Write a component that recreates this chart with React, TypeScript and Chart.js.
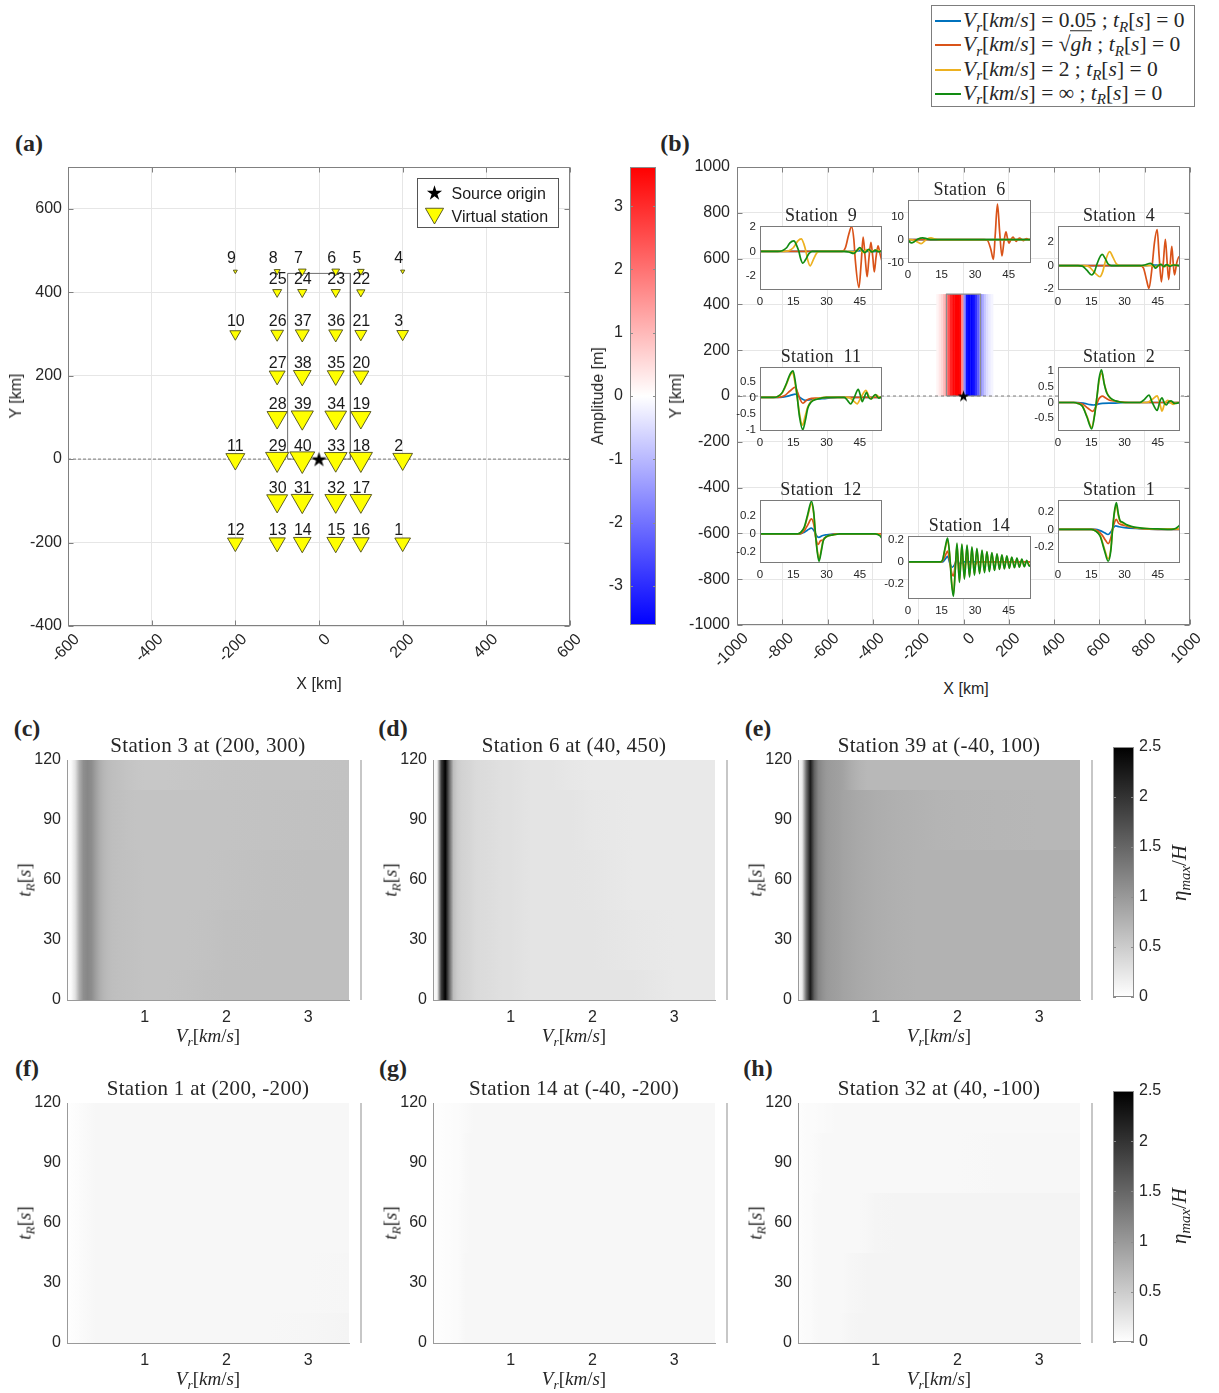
import React, { useEffect, useRef } from 'react';
import { Chart, registerables } from 'chart.js';

Chart.register(...registerables);

const SANS = '"Liberation Sans", Arial, Helvetica, sans-serif';
const SERIF = '"Liberation Serif", "Times New Roman", serif';
const INK = '#262626';
const GRID = '#e6e6e6';
const FRAME = '#808080';
const C_BLUE = '#0072BD';
const C_RED = '#D95319';
const C_YELLOW = '#EDB120';
const C_GREEN = '#128C12';

// ---------------- (a) virtual stations ----------------
const STATION_ID = [1,2,3,4,5,6,7,8,9,10,11,12,13,14,15,16,17,18,19,20,21,22,23,24,25,26,27,28,29,30,31,32,33,34,35,36,37,38,39,40];
const STATION_X = [200,200,200,200,100,40,-40,-100,-200,-200,-200,-200,-100,-40,40,100,100,100,100,100,100,100,40,-40,-100,-100,-100,-100,-100,-100,-40,40,40,40,40,40,-40,-40,-40,-40];
const STATION_Y = [-200,0,300,450,450,450,450,450,450,300,0,-200,-200,-200,-200,-200,-100,0,100,200,300,400,400,400,400,300,200,100,0,-100,-100,-100,0,100,200,300,300,200,100,0];
const STATION_PEAK = [0.63,0.79,0.47,0.17,0.27,0.31,0.31,0.24,0.16,0.44,0.76,0.63,0.65,0.71,0.71,0.67,0.87,0.93,0.81,0.64,0.48,0.33,0.37,0.37,0.36,0.51,0.64,0.81,0.93,0.84,0.89,0.87,0.91,0.87,0.68,0.56,0.56,0.71,0.89,1.0];
const SOURCE_X = [0];
const SOURCE_Y = [0];
const FAULT_X = [-75, -75, 75, 75, -75];
const FAULT_Y = [0, 445, 445, 0, 0];
const A_XTICKS = [-600, -400, -200, 0, 200, 400, 600];
const A_YTICKS = [-400, -200, 0, 200, 400, 600];

// amplitude colour bar
const AMP_LIMIT = 3.62;
const AMP_TICKS = [-3, -2, -1, 0, 1, 2, 3];

// ---------------- (b) ----------------
const B_TICKS = [-1000, -800, -600, -400, -200, 0, 200, 400, 600, 800, 1000];
const STRIP_X = [-115,-105,-95,-85,-75,-65,-55,-45,-35,-25,-15,-5,5,15,25,35,45,55,65,75,85,95,105,115,125];
const STRIP_AMP = [0.15,0.35,0.6,1.0,1.6,2.4,3.1,3.5,3.6,3.6,3.5,1.6,-1.6,-3.4,-3.6,-3.6,-3.4,-2.9,-2.3,-1.7,-1.2,-0.8,-0.5,-0.3,-0.15];
const STRIP_TOP = 445;

const T_TICKS = [0, 15, 30, 45];

const S9_BLUE = [[0,0],[40,0],[43,0.02],[46,0.06],[48,0.02],[50,-0.02],[55,0]];
const S9_RED = [[0,0],[37,0],[38.5,0.3],[40,1.4],[41.3,2.04],[42.3,1.0],[43,-0.8],[44.6,-3.0],[45.6,-1.0],[46.5,1.18],[47.4,-0.5],[48.3,-2.1],[49.1,-0.6],[50,0.75],[50.8,-0.4],[51.5,-1.7],[52.3,-0.5],[53.2,0.46],[54.1,-0.2],[55,-0.83]];
const S9_YELLOW = [[0,0],[11,0],[13,0.05],[15,0.3],[17,0.85],[18.6,1.03],[19.8,0.6],[20.7,0],[21.5,-0.7],[22.6,-1.2],[24,-0.7],[25.5,-0.15],[27,0],[40,0],[43,-0.05],[45,0.2],[46.5,-0.1],[48,0.15],[50,-0.05],[52,0.1],[55,0]];
const S9_GREEN = [[0,0],[8,0],[10,0.05],[12,0.3],[13.5,0.7],[15.3,0.86],[16.5,0.5],[17.5,0],[18.3,-0.6],[19.3,-0.98],[20.5,-0.7],[22,-0.2],[23.5,0],[38,0],[40,-0.05],[42.3,-0.17],[43.8,0.1],[45,0.32],[46.2,0.05],[47.3,-0.1],[49,0.17],[50.5,-0.05],[52,0.1],[53.5,-0.03],[55,0.05]];

const S6_BLUE = [[0,0],[55,0]];
const S6_RED = [[0,0],[34,0],[35.5,-0.3],[37,-4],[38.2,-8.5],[39,2],[40,15.2],[41,3],[42,-7],[42.9,-1],[43.8,3.3],[44.5,0.5],[45.2,-1.5],[46,0],[47,1.1],[47.7,0.1],[48.4,-0.7],[49.1,0.1],[49.9,0.7],[50.8,0.1],[51.6,-0.4],[52.4,0.2],[53.1,0.5],[54,0],[55,0.1]];
const S6_YELLOW = [[0,0],[2,-0.1],[4,-0.9],[5.9,-1.7],[7.5,-0.5],[8.7,0.4],[10.3,0.8],[12,0.3],[14,0],[55,0]];
const S6_GREEN = [[0,0],[0.8,-1.0],[1.6,-1.4],[2.8,-0.9],[4.5,0.3],[6.6,0.8],[8.5,0.35],[10,0.05],[12,0],[55,0]];

const S4_BLUE = [[0,0],[40,0],[43,0.05],[46,0.02],[55,0]];
const S4_RED = [[0,0],[37,0],[38.5,-0.2],[40,-1.3],[41,-1.97],[42.2,-0.5],[43.5,2.0],[44.7,3.1],[45.6,0.8],[46.6,-1.4],[47.5,0.3],[48.4,2.25],[49.2,0.3],[49.9,-1.2],[50.6,0.2],[51.3,1.65],[51.9,0.3],[52.5,-0.8],[53.5,0.2],[54.6,0.78],[55,0.5]];
const S4_YELLOW = [[0,0],[12,0],[14,-0.1],[16.5,-0.6],[18.9,-0.96],[20.2,-0.5],[21.4,0.4],[23.3,1.19],[24.8,0.7],[26.3,0.15],[28,0],[42,0],[44,-0.1],[46,0.1],[48,-0.08],[50,0.06],[55,0]];
const S4_GREEN = [[0,0],[9,0],[11,-0.05],[13,-0.4],[15.2,-0.81],[16.5,-0.5],[17.7,0.2],[19.9,0.96],[21.3,0.6],[22.5,0.15],[24,0],[37,0],[39,0.05],[41.7,0.2],[43,0],[44,-0.23],[45.3,0],[46.5,0.1],[47.7,-0.1],[49,0.08],[50.5,-0.06],[52,0.05],[55,0]];

const S11_BLUE = [[0,0],[9,0],[12,0.03],[14.5,0.08],[15.9,0.1],[17.5,0.03],[19,-0.05],[20.5,-0.09],[23,-0.07],[26,-0.05],[30,-0.03],[35,0],[55,0]];
const S11_RED = [[0,0],[8,0],[11,0.05],[13.5,0.2],[15.9,0.32],[17,0.15],[18,-0.05],[19.3,-0.18],[20.5,-0.12],[22,-0.05],[26,-0.02],[30,0],[55,0]];
const S11_YELLOW = [[0,0],[6,0],[8,0.03],[10,0.14],[12,0.42],[13.5,0.68],[14.7,0.78],[15.8,0.45],[16.8,0],[17.8,-0.5],[19.1,-0.87],[20.3,-0.6],[21.5,-0.3],[23,-0.12],[26,-0.04],[30,0],[40,0],[42,-0.1],[43.8,-0.2],[45.5,0],[47.8,0.22],[49,0.05],[50.2,-0.05],[51.3,0.03],[52.5,0.07],[54,0],[55,0.02]];
const S11_GREEN = [[0,0],[6,0],[8,0.03],[10,0.15],[12,0.45],[13.5,0.72],[14.9,0.83],[15.9,0.5],[16.8,0],[17.8,-0.6],[19.3,-1.01],[20.5,-0.7],[21.5,-0.35],[23,-0.15],[26,-0.05],[30,0],[38,0],[39.5,-0.1],[40.9,-0.2],[42.5,0],[44.3,0.25],[45.3,0.05],[46.1,-0.13],[47,0],[48,0.16],[49,0],[50,-0.05],[51,0.02],[52,0.09],[53.5,-0.02],[55,0.02]];

const S2_BLUE = [[0,0],[9,0],[12,-0.03],[14.5,-0.07],[16,-0.08],[18,-0.05],[20,-0.03],[25,-0.02],[30,0],[55,0]];
const S2_RED = [[0,0],[8,0],[11,-0.05],[13.5,-0.18],[15.6,-0.28],[17,-0.15],[18.3,0.1],[20,0.2],[21.5,0.14],[23,0.08],[25,0.05],[28,0.02],[32,0],[55,0]];
const S2_YELLOW = [[0,0],[7,0],[9,-0.03],[11,-0.11],[13,-0.42],[15.2,-0.78],[16.5,-0.38],[17.6,0.2],[18.6,0.7],[19.8,0.93],[21,0.55],[22.2,0.28],[24,0.11],[26,0.04],[30,0],[40,0],[42.5,0.1],[44.7,0.21],[45.8,0],[46.9,-0.27],[48,-0.05],[49.5,0.07],[51,-0.02],[52,-0.06],[53.5,0],[55,0]];
const S2_GREEN = [[0,0],[7,0],[9,-0.03],[11,-0.12],[13,-0.45],[15.2,-0.83],[16.5,-0.4],[17.6,0.2],[18.5,0.75],[19.6,1.03],[20.8,0.6],[22,0.3],[24,0.12],[26,0.05],[30,0],[37,0],[39,0.1],[41,0.23],[42.5,0],[44.7,-0.25],[46,0.05],[46.9,0.15],[47.8,0],[48.8,-0.08],[50,0.03],[51,0.05],[52.5,-0.03],[55,0]];

const S12_BLUE = [[0,0],[18,0],[20,0.02],[21.5,0.045],[23.2,0.065],[24.3,0.04],[25.5,-0.02],[26.5,-0.04],[28,-0.02],[30,-0.01],[35,0],[55,0]];
const S12_RED = [[0,0],[18,0],[20,0.04],[21.5,0.1],[23.2,0.17],[24.3,0.1],[25.2,-0.05],[26.2,-0.12],[27.2,-0.08],[28.2,-0.07],[29.5,-0.04],[32,-0.01],[36,0],[55,0]];
const S12_YELLOW = [[0,0],[17,0],[18.5,0.02],[20,0.07],[21.5,0.2],[23.2,0.34],[24.2,0.23],[25,0],[25.8,-0.18],[26.6,-0.29],[27.6,-0.18],[28.5,-0.07],[30,-0.03],[33,-0.01],[36,0],[52,0],[54,-0.01],[55,-0.04]];
const S12_GREEN = [[0,0],[17,0],[18.5,0.02],[20,0.08],[21.5,0.22],[23.2,0.37],[24.2,0.25],[25,0],[25.8,-0.2],[26.6,-0.31],[27.6,-0.2],[28.5,-0.08],[30,-0.03],[33,-0.01],[36,0],[52,0],[54,-0.02],[55,-0.05]];

const S14_BLUE = [[0,0],[15.5,0],[16.8,0.03],[17.7,0.05],[18.8,-0.02],[19.8,-0.05],[21,-0.02],[22,0.02],[23,-0.02],[25,0],[55,0]];
const S14_RED = [[0,0],[15,0],[16.5,0.05],[17.7,0.1],[18.7,0],[19.5,-0.1],[20.3,-0.13],[21.3,0],[22,0.06],[23,-0.07],[24.1,0.05],[25.2,-0.06],[26.4,0.04],[27.5,-0.05],[28.6,0.03],[29.7,-0.04],[31,0],[55,0]];
const S14_YELLOW = [[0,0],[14.5,0],[15.5,0.02],[16.5,0.11],[17.7,0.2],[18.7,0.05],[19.5,-0.18],[20.3,-0.3],[21.2,-0.05],[21.9,0.16],[23,-0.18],[24.1,0.155],[25.2,-0.15],[26.4,0.145],[27.5,-0.13],[28.6,0.13],[29.7,-0.115],[30.8,0.115],[32,-0.1],[33.1,0.1],[34.2,-0.09],[35.3,0.09],[36.4,-0.08],[37.5,0.08],[38.7,-0.075],[39.8,0.07],[40.9,-0.065],[42,0.06],[43.1,-0.06],[44.2,0.05],[45.3,-0.055],[46.4,0.04],[47.6,-0.05],[48.7,0.03],[49.8,-0.045],[50.9,0.02],[52,-0.04],[53.1,0.01],[54.2,-0.03],[55,-0.02]];
const S14_GREEN = [[0,0],[14.5,0],[15.5,0.02],[16.5,0.12],[17.7,0.22],[18.7,0.05],[19.5,-0.2],[20.3,-0.32],[21.2,-0.05],[21.9,0.175],[23,-0.19],[24.1,0.165],[25.2,-0.16],[26.4,0.155],[27.5,-0.14],[28.6,0.14],[29.7,-0.125],[30.8,0.125],[32,-0.11],[33.1,0.11],[34.2,-0.1],[35.3,0.095],[36.4,-0.09],[37.5,0.085],[38.7,-0.08],[39.8,0.075],[40.9,-0.07],[42,0.065],[43.1,-0.065],[44.2,0.055],[45.3,-0.06],[46.4,0.045],[47.6,-0.055],[48.7,0.035],[49.8,-0.05],[50.9,0.025],[52,-0.045],[53.1,0.015],[54.2,-0.04],[55,-0.03]];

const S1_BLUE = [[0,0],[17,0],[19,-0.015],[21,-0.04],[22.6,-0.06],[23.8,-0.03],[25,0.02],[26,0.04],[27.5,0.03],[30,0.02],[35,0.01],[45,0],[55,0]];
const S1_RED = [[0,0],[16,0],[18,-0.02],[20,-0.07],[21.5,-0.13],[22.6,-0.165],[23.8,-0.1],[24.8,0.02],[25.6,0.09],[26.3,0.115],[27.3,0.07],[28.5,0.055],[30,0.045],[33,0.025],[37,0.01],[45,0],[55,0]];
const S1_YELLOW = [[0,0],[15,0],[17,-0.02],[19,-0.07],[21,-0.23],[22.6,-0.34],[23.8,-0.23],[24.6,0],[25.4,0.18],[26.3,0.28],[27.2,0.16],[28,0.09],[29,0.075],[30.5,0.05],[33,0.03],[36,0.015],[40,0.008],[45,0.004],[55,0.005]];
const S1_GREEN = [[0,0],[15,0],[17,-0.02],[19,-0.08],[21,-0.25],[22.6,-0.37],[23.8,-0.25],[24.6,0],[25.4,0.2],[26.3,0.31],[27.2,0.18],[28,0.1],[29,0.085],[30.5,0.06],[33,0.035],[36,0.02],[40,0.01],[45,0.005],[51,0],[53,0.01],[55,0.05]];

// ---------------- (c)-(h) heat maps ----------------
const HM_VR = [0.05,0.1,0.15,0.2,0.25,0.3,0.35,0.4,0.45,0.5,0.55,0.6,0.7,0.8,0.9,1.0,1.25,1.5,1.75,2.0,2.5,3.0,3.5];
const HM_TR = [0, 30, 60, 90, 120];
const HM_VR_TICKS = [1, 2, 3];
const HM_TR_TICKS = [0, 30, 60, 90, 120];
const ETA_TICKS = [0, 0.5, 1, 1.5, 2, 2.5];
const ETA_MAX = 2.5;

const HM_ST3 = [
  [0.0,0.04,0.28,0.8,1.1,1.18,1.12,0.95,0.8,0.72,0.67,0.64,0.62,0.61,0.6,0.59,0.59,0.6,0.62,0.625,0.625,0.625,0.625],
  [0.0,0.04,0.28,0.8,1.1,1.18,1.12,0.95,0.8,0.72,0.67,0.64,0.62,0.61,0.6,0.59,0.59,0.59,0.6,0.615,0.625,0.625,0.625],
  [0.0,0.04,0.28,0.8,1.1,1.18,1.12,0.95,0.8,0.72,0.67,0.64,0.62,0.61,0.6,0.59,0.59,0.59,0.59,0.6,0.615,0.625,0.625],
  [0.0,0.04,0.28,0.8,1.1,1.18,1.12,0.95,0.8,0.72,0.67,0.64,0.62,0.6,0.59,0.59,0.59,0.59,0.59,0.59,0.6,0.61,0.62],
  [0.0,0.04,0.28,0.8,1.1,1.18,1.12,0.95,0.8,0.72,0.67,0.64,0.61,0.58,0.56,0.55,0.55,0.56,0.57,0.58,0.59,0.59,0.6],
];
const HM_ST6 = [
  [0.03,0.1,1.9,2.5,1.5,0.65,0.5,0.44,0.42,0.4,0.37,0.35,0.34,0.32,0.3,0.3,0.265,0.265,0.265,0.265,0.265,0.22,0.216],
  [0.03,0.1,1.9,2.5,1.5,0.65,0.5,0.44,0.42,0.4,0.37,0.35,0.34,0.32,0.3,0.3,0.265,0.265,0.265,0.265,0.24,0.216,0.216],
  [0.03,0.1,1.9,2.5,1.5,0.65,0.5,0.44,0.42,0.4,0.37,0.35,0.34,0.32,0.3,0.3,0.265,0.265,0.265,0.255,0.22,0.216,0.216],
  [0.03,0.1,1.9,2.5,1.5,0.65,0.5,0.44,0.42,0.4,0.37,0.35,0.34,0.32,0.3,0.3,0.265,0.265,0.26,0.24,0.216,0.216,0.216],
  [0.03,0.1,1.9,2.5,1.5,0.65,0.5,0.44,0.42,0.4,0.37,0.35,0.34,0.32,0.3,0.3,0.265,0.265,0.24,0.216,0.216,0.216,0.216],
];
const HM_ST39 = [
  [0.02,0.2,1.4,2.25,1.55,1.2,1.08,1.0,0.97,0.95,0.93,0.9,0.87,0.84,0.82,0.8,0.77,0.755,0.755,0.755,0.755,0.755,0.755],
  [0.02,0.2,1.4,2.25,1.55,1.2,1.08,1.0,0.97,0.95,0.93,0.9,0.87,0.84,0.82,0.8,0.77,0.755,0.755,0.755,0.755,0.755,0.755],
  [0.02,0.2,1.4,2.25,1.55,1.2,1.08,1.0,0.97,0.95,0.93,0.9,0.87,0.84,0.82,0.8,0.77,0.755,0.755,0.755,0.755,0.755,0.755],
  [0.02,0.2,1.4,2.25,1.55,1.2,1.08,1.0,0.97,0.95,0.93,0.9,0.87,0.84,0.82,0.8,0.77,0.755,0.74,0.73,0.72,0.71,0.71],
  [0.02,0.2,1.4,2.25,1.55,1.2,1.08,1.0,0.97,0.95,0.93,0.9,0.8,0.74,0.7,0.7,0.7,0.7,0.7,0.7,0.7,0.7,0.7],
];
const HM_ST1 = [
  [0.01,0.02,0.03,0.04,0.05,0.06,0.07,0.075,0.08,0.08,0.08,0.08,0.08,0.08,0.08,0.08,0.08,0.08,0.08,0.08,0.08,0.085,0.11],
  [0.01,0.02,0.03,0.04,0.05,0.06,0.07,0.075,0.08,0.08,0.08,0.08,0.08,0.08,0.08,0.08,0.08,0.08,0.08,0.08,0.08,0.08,0.09],
  [0.01,0.02,0.03,0.04,0.05,0.06,0.07,0.075,0.08,0.08,0.08,0.08,0.08,0.08,0.08,0.08,0.08,0.08,0.08,0.08,0.08,0.08,0.08],
  [0.01,0.02,0.03,0.04,0.05,0.06,0.07,0.075,0.08,0.08,0.08,0.08,0.08,0.08,0.08,0.08,0.08,0.08,0.08,0.08,0.08,0.08,0.08],
  [0.01,0.02,0.03,0.04,0.05,0.06,0.07,0.075,0.08,0.08,0.08,0.08,0.08,0.08,0.08,0.08,0.08,0.08,0.08,0.08,0.08,0.08,0.08],
];
const HM_ST14 = [
  [0.01,0.015,0.02,0.025,0.03,0.035,0.04,0.06,0.075,0.08,0.08,0.08,0.08,0.08,0.08,0.08,0.08,0.08,0.08,0.08,0.08,0.08,0.08],
  [0.01,0.015,0.02,0.025,0.03,0.035,0.04,0.06,0.075,0.08,0.08,0.08,0.08,0.08,0.08,0.08,0.08,0.08,0.08,0.08,0.08,0.08,0.08],
  [0.01,0.015,0.02,0.025,0.03,0.035,0.04,0.055,0.07,0.08,0.08,0.08,0.08,0.08,0.08,0.08,0.08,0.08,0.08,0.08,0.08,0.08,0.08],
  [0.01,0.015,0.02,0.025,0.03,0.035,0.04,0.05,0.065,0.075,0.08,0.08,0.08,0.08,0.08,0.08,0.08,0.08,0.08,0.08,0.08,0.08,0.08],
  [0.01,0.015,0.02,0.025,0.03,0.035,0.04,0.045,0.06,0.07,0.075,0.08,0.08,0.08,0.08,0.08,0.08,0.08,0.08,0.08,0.08,0.08,0.08],
];
const HM_ST32 = [
  [0.02,0.03,0.035,0.04,0.06,0.07,0.07,0.07,0.07,0.07,0.07,0.075,0.1,0.11,0.11,0.11,0.11,0.11,0.11,0.11,0.11,0.11,0.11],
  [0.02,0.03,0.035,0.04,0.06,0.07,0.07,0.07,0.07,0.07,0.07,0.07,0.09,0.1,0.11,0.11,0.11,0.11,0.11,0.11,0.11,0.11,0.11],
  [0.02,0.03,0.035,0.04,0.055,0.07,0.07,0.07,0.07,0.07,0.07,0.07,0.07,0.07,0.08,0.1,0.11,0.11,0.11,0.11,0.11,0.11,0.11],
  [0.02,0.03,0.035,0.04,0.045,0.06,0.07,0.07,0.07,0.07,0.07,0.07,0.07,0.07,0.07,0.07,0.07,0.07,0.07,0.07,0.075,0.075,0.075],
  [0.02,0.03,0.035,0.04,0.04,0.045,0.05,0.055,0.06,0.07,0.07,0.07,0.07,0.07,0.07,0.07,0.07,0.07,0.07,0.07,0.07,0.07,0.07],
];

// ---------------- helpers ----------------
type Area = { l: number; t: number; r: number; b: number };
type Mg = { l: number; t: number; r: number; b: number };

function grayCss(v: number) {
  const g = Math.round(255 * (1 - Math.max(0, Math.min(ETA_MAX, v)) / ETA_MAX));
  return `rgb(${g},${g},${g})`;
}
function ampCss(v: number) {
  const t = Math.max(-1, Math.min(1, v / AMP_LIMIT));
  if (t >= 0) {
    const c = Math.round(255 * (1 - t));
    return `rgb(255,${c},${c})`;
  }
  const c = Math.round(255 * (1 + t));
  return `rgb(${c},${c},255)`;
}
function starCanvas(size: number) {
  const c = document.createElement('canvas');
  c.width = size;
  c.height = size;
  const ctx = c.getContext('2d')!;
  const R = size / 2 - 0.5;
  const r = R * 0.382;
  const cx = size / 2;
  const cy = size / 2 + R * 0.095;
  ctx.beginPath();
  for (let i = 0; i < 10; i++) {
    const ang = -Math.PI / 2 + (i * Math.PI) / 5;
    const rr = i % 2 === 0 ? R : r;
    ctx.lineTo(cx + rr * Math.cos(ang), cy + rr * Math.sin(ang));
  }
  ctx.closePath();
  ctx.fillStyle = '#000';
  ctx.fill();
  return c;
}

function axis(o: any, horizontal: boolean) {
  return {
    type: 'linear',
    display: o.display !== false,
    position: o.position || (horizontal ? 'bottom' : 'left'),
    min: o.min,
    max: o.max,
    afterBuildTicks: (s: any) => {
      s.ticks = o.ticks.map((v: number) => ({ value: v }));
    },
    afterFit: (s: any) => {
      if (horizontal) s.height = o.size;
      else s.width = o.size;
    },
    ticks: {
      autoSkip: false,
      padding: o.pad,
      color: INK,
      font: { family: SANS, size: o.font },
      maxRotation: o.rot || 0,
      minRotation: o.rot || 0,
      labelOffset: o.offset || 0,
      callback: (v: any) => String(v),
    },
    grid: { display: !!o.grid, color: GRID, drawTicks: false, lineWidth: 1 },
    border: { display: !!o.border, color: o.border || 'transparent', width: 1 },
  };
}

function baseOptions(scales: any, padding: any) {
  return {
    responsive: false,
    maintainAspectRatio: false,
    animation: false,
    devicePixelRatio: 1,
    events: [],
    layout: { padding },
    plugins: { legend: { display: false }, tooltip: { enabled: false }, title: { display: false } },
    scales,
  };
}

function framePlugin(color: string, tick: number) {
  return {
    id: 'frame',
    afterDatasetsDraw(chart: any) {
      const { ctx, chartArea: a } = chart;
      const L = Math.round(a.left) + 0.5;
      const R = Math.round(a.right) - 0.5;
      const T = Math.round(a.top) + 0.5;
      const B = Math.round(a.bottom) - 0.5;
      ctx.save();
      ctx.strokeStyle = color;
      ctx.lineWidth = 1;
      ctx.strokeRect(L, T, R - L, B - T);
      if (tick > 0) {
        ctx.beginPath();
        const xs = chart.scales.x;
        const ys = chart.scales.y;
        xs.ticks.forEach((t: any) => {
          const p = Math.round(xs.getPixelForValue(t.value)) + 0.5;
          ctx.moveTo(p, B); ctx.lineTo(p, B - tick);
          ctx.moveTo(p, T); ctx.lineTo(p, T + tick);
        });
        ys.ticks.forEach((t: any) => {
          const p = Math.round(ys.getPixelForValue(t.value)) + 0.5;
          ctx.moveTo(L, p); ctx.lineTo(L + tick, p);
          ctx.moveTo(R, p); ctx.lineTo(R - tick, p);
        });
        ctx.stroke();
      }
      ctx.restore();
    },
  };
}

function ChartBox({ area, m, make }: { area: Area; m: Mg; make: (m: Mg) => any }) {
  const ref = useRef<HTMLCanvasElement | null>(null);
  const x = area.l - m.l;
  const y = area.t - m.t;
  const w = area.r - area.l + m.l + m.r;
  const h = area.b - area.t + m.t + m.b;
  useEffect(() => {
    const chart = new Chart(ref.current as HTMLCanvasElement, make(m));
    return () => chart.destroy();
  }, []);
  return <canvas ref={ref} width={w} height={h} style={{ position: 'absolute', left: x, top: y, width: w, height: h }} />;
}

// ---------------- chart factories ----------------
function makePanelA(m: Mg) {
  const star = starCanvas(17);
  const labels = {
    id: 'stationLabels',
    afterDatasetsDraw(chart: any) {
      const { ctx } = chart;
      const xs = chart.scales.x;
      const ys = chart.scales.y;
      ctx.save();
      ctx.font = `16px ${SANS}`;
      ctx.fillStyle = '#1a1a1a';
      ctx.textAlign = 'left';
      ctx.textBaseline = 'alphabetic';
      STATION_ID.forEach((id, i) => {
        ctx.fillText(String(id), xs.getPixelForValue(STATION_X[i] - 20), ys.getPixelForValue(STATION_Y[i] + 19));
      });
      ctx.restore();
    },
  };
  const legend = {
    id: 'aLegend',
    afterDraw(chart: any) {
      const { ctx, chartArea: a } = chart;
      const bx = Math.round(a.right - 153) + 0.5;
      const by = Math.round(a.top + 11) + 0.5;
      ctx.save();
      ctx.fillStyle = '#fff';
      ctx.fillRect(bx, by, 141, 49);
      ctx.strokeStyle = '#555';
      ctx.lineWidth = 1;
      ctx.strokeRect(bx, by, 141, 49);
      ctx.drawImage(star, bx + 17 - star.width / 2, by + 14 - star.height / 2);
      const r = 10.5;
      const cx = bx + 17;
      const cy = by + 35;
      ctx.beginPath();
      ctx.moveTo(cx, cy + r);
      ctx.lineTo(cx - r * 0.866, cy - r / 2);
      ctx.lineTo(cx + r * 0.866, cy - r / 2);
      ctx.closePath();
      ctx.fillStyle = '#ffff00';
      ctx.fill();
      ctx.strokeStyle = '#4d4d1a';
      ctx.lineWidth = 0.9;
      ctx.stroke();
      ctx.font = `16px ${SANS}`;
      ctx.fillStyle = '#1a1a1a';
      ctx.textBaseline = 'alphabetic';
      ctx.fillText('Source origin', bx + 34, by + 20.5);
      ctx.fillText('Virtual station', bx + 34, by + 43);
      ctx.restore();
    },
  };
  return {
    type: 'scatter',
    data: {
      datasets: [
        { data: [{ x: -600, y: 0 }, { x: 600, y: 0 }], showLine: true, borderColor: '#5a5a5a', borderWidth: 0.8, borderDash: [3, 2], pointRadius: 0, order: 5 },
        { data: FAULT_X.map((x, i) => ({ x, y: FAULT_Y[i] })), showLine: true, borderColor: '#6e6e6e', borderWidth: 1, pointRadius: 0, order: 4 },
        {
          data: STATION_X.map((x, i) => ({ x, y: STATION_Y[i] })),
          pointStyle: 'triangle', pointRotation: 180,
          pointRadius: STATION_PEAK.map((p) => p * 14.4),
          pointBackgroundColor: '#ffff00', pointBorderColor: '#4d4d1a', pointBorderWidth: 0.9, order: 2,
        },
        { data: SOURCE_X.map((x, i) => ({ x, y: SOURCE_Y[i] })), pointStyle: star, pointRadius: 8, order: 1 },
      ],
    },
    options: baseOptions(
      {
        x: axis({ min: -600, max: 600, ticks: A_XTICKS, font: 16, pad: 4, size: m.b, grid: true, rot: 45, offset: 9 }, true),
        y: axis({ min: -400, max: 700, ticks: A_YTICKS, font: 16, pad: 6, size: m.l, grid: true }, false),
      },
      { left: 0, top: m.t, right: m.r, bottom: 0 }
    ),
    plugins: [framePlugin(FRAME, 5), labels, legend],
  };
}

function makeAmpBar(m: Mg) {
  const grad = {
    id: 'ampGrad',
    beforeDatasetsDraw(chart: any) {
      const { ctx, chartArea: a } = chart;
      const ys = chart.scales.y;
      const g = ctx.createLinearGradient(0, ys.getPixelForValue(AMP_LIMIT), 0, ys.getPixelForValue(-AMP_LIMIT));
      g.addColorStop(0, ampCss(AMP_LIMIT));
      g.addColorStop(0.5, ampCss(0));
      g.addColorStop(1, ampCss(-AMP_LIMIT));
      ctx.fillStyle = g;
      ctx.fillRect(a.left, a.top, a.right - a.left, a.bottom - a.top);
      ctx.save();
      ctx.strokeStyle = '#8c8c8c';
      ctx.lineWidth = 1;
      ctx.strokeRect(Math.round(a.left) + 0.5, Math.round(a.top) + 0.5, Math.round(a.right - a.left) - 1, Math.round(a.bottom - a.top) - 1);
      ctx.beginPath();
      ys.ticks.forEach((t: any) => {
        const p = Math.round(ys.getPixelForValue(t.value)) + 0.5;
        ctx.moveTo(a.left, p); ctx.lineTo(a.left + 3, p);
        ctx.moveTo(a.right, p); ctx.lineTo(a.right - 3, p);
      });
      ctx.stroke();
      ctx.restore();
    },
  };
  return {
    type: 'scatter',
    data: { datasets: [] },
    options: baseOptions(
      {
        x: { type: 'linear', display: false, min: 0, max: 1 },
        y: axis({ min: -AMP_LIMIT, max: AMP_LIMIT, ticks: AMP_TICKS, font: 16, pad: 7, size: m.l }, false),
      },
      { left: 0, top: m.t, right: m.r, bottom: m.b }
    ),
    plugins: [grad],
  };
}

function makePanelB(m: Mg) {
  const star = starCanvas(13);
  const strip = {
    id: 'strip',
    beforeDatasetsDraw(chart: any) {
      const { ctx } = chart;
      const xs = chart.scales.x;
      const ys = chart.scales.y;
      const y0 = ys.getPixelForValue(0);
      const y1 = ys.getPixelForValue(STRIP_TOP);
      const half = (STRIP_X[1] - STRIP_X[0]) / 2;
      STRIP_X.forEach((xc, i) => {
        const x0 = xs.getPixelForValue(xc - half);
        const x1 = xs.getPixelForValue(xc + half);
        ctx.fillStyle = ampCss(STRIP_AMP[i]);
        ctx.fillRect(x0, y1, x1 - x0 + 0.4, y0 - y1);
      });
    },
  };
  return {
    type: 'scatter',
    data: {
      datasets: [
        { data: [{ x: -1000, y: 0 }, { x: 1000, y: 0 }], showLine: true, borderColor: '#606060', borderWidth: 0.8, borderDash: [3, 3], pointRadius: 0, order: 3 },
        { data: FAULT_X.map((x, i) => ({ x, y: FAULT_Y[i] })), showLine: true, borderColor: '#8c8c8c', borderWidth: 1.2, pointRadius: 0, order: 2 },
        { data: SOURCE_X.map((x, i) => ({ x, y: SOURCE_Y[i] })), pointStyle: star, pointRadius: 6, order: 1 },
      ],
    },
    options: baseOptions(
      {
        x: axis({ min: -1000, max: 1000, ticks: B_TICKS, font: 16, pad: 4, size: m.b, grid: true, rot: 45, offset: 9 }, true),
        y: axis({ min: -1000, max: 1000, ticks: B_TICKS, font: 16, pad: 7, size: m.l, grid: true }, false),
      },
      { left: 0, top: m.t, right: m.r, bottom: 0 }
    ),
    plugins: [strip, framePlugin(FRAME, 5)],
  };
}

function makeInset(series: number[][][], yMin: number, yMax: number, yTicks: number[]) {
  const colors = [C_BLUE, C_RED, C_YELLOW, C_GREEN];
  return (m: Mg) => ({
    type: 'scatter',
    data: {
      datasets: series.map((s, i) => ({
        data: s.map((p) => ({ x: p[0], y: p[1] })),
        showLine: true,
        borderColor: colors[i],
        borderWidth: 1.7,
        pointRadius: 0,
        cubicInterpolationMode: 'monotone',
        order: 3 - i,
      })),
    },
    options: baseOptions(
      {
        x: axis({ min: 0, max: 55, ticks: T_TICKS, font: 11.5, pad: 5, size: m.b }, true),
        y: axis({ min: yMin, max: yMax, ticks: yTicks, font: 11.5, pad: 4, size: m.l }, false),
      },
      { left: 0, top: m.t, right: m.r, bottom: 0 }
    ),
    plugins: [
      {
        id: 'whiteBg',
        beforeDraw(chart: any) {
          const { ctx, chartArea: a } = chart;
          ctx.save();
          ctx.fillStyle = '#fff';
          ctx.fillRect(a.left, a.top, a.right - a.left, a.bottom - a.top);
          ctx.restore();
        },
      },
      framePlugin('#7a7a7a', 0),
    ],
  });
}

function makeHeat(rows: number[][]) {
  return (m: Mg) => ({
    type: 'scatter',
    data: { datasets: [] },
    options: baseOptions(
      {
        x: axis({ min: HM_VR[0], max: HM_VR[HM_VR.length - 1], ticks: HM_VR_TICKS, font: 16, pad: 8, size: m.b, border: '#9a9a9a' }, true),
        y: axis({ min: HM_TR[0], max: HM_TR[HM_TR.length - 1], ticks: HM_TR_TICKS, font: 16, pad: 6, size: m.l, border: '#9a9a9a' }, false),
      },
      { left: 0, top: m.t, right: m.r, bottom: 0 }
    ),
    plugins: [
      {
        id: 'heat',
        beforeDraw(chart: any) {
          const { ctx, chartArea: a } = chart;
          const xs = chart.scales.x;
          const ys = chart.scales.y;
          const x0 = xs.getPixelForValue(xs.min);
          const x1 = xs.getPixelForValue(xs.max);
          const edges = [ys.min];
          for (let i = 0; i < HM_TR.length - 1; i++) edges.push((HM_TR[i] + HM_TR[i + 1]) / 2);
          edges.push(ys.max);
          ctx.save();
          rows.forEach((row, r) => {
            const g = ctx.createLinearGradient(x0, 0, x1, 0);
            row.forEach((v, c) => {
              const p = (xs.getPixelForValue(HM_VR[c]) - x0) / (x1 - x0);
              g.addColorStop(Math.max(0, Math.min(1, p)), grayCss(v));
            });
            ctx.fillStyle = g;
            const yt = Math.round(ys.getPixelForValue(edges[r + 1]));
            const yb = Math.round(ys.getPixelForValue(edges[r]));
            ctx.fillRect(a.left, yt, a.right - a.left, yb - yt);
          });
          ctx.restore();
        },
        afterDraw(chart: any) {
          const { ctx, chartArea: a } = chart;
          ctx.save();
          ctx.strokeStyle = '#b4b4b4';
          ctx.lineWidth = 1.5;
          ctx.beginPath();
          ctx.moveTo(Math.round(a.right) + 12, a.top);
          ctx.lineTo(Math.round(a.right) + 12, a.bottom);
          ctx.stroke();
          ctx.restore();
        },
      },
    ],
  });
}

function makeEtaBar(m: Mg) {
  return {
    type: 'scatter',
    data: { datasets: [] },
    options: baseOptions(
      {
        x: { type: 'linear', display: false, min: 0, max: 1 },
        y: axis({ min: 0, max: ETA_MAX, ticks: ETA_TICKS, font: 16, pad: 5, size: m.r, position: 'right' }, false),
      },
      { left: m.l, top: m.t, right: 0, bottom: m.b }
    ),
    plugins: [
      {
        id: 'etaGrad',
        beforeDatasetsDraw(chart: any) {
          const { ctx, chartArea: a } = chart;
          const ys = chart.scales.y;
          const g = ctx.createLinearGradient(0, ys.getPixelForValue(ETA_MAX), 0, ys.getPixelForValue(0));
          g.addColorStop(0, grayCss(ETA_MAX));
          g.addColorStop(1, grayCss(0));
          ctx.fillStyle = g;
          ctx.fillRect(a.left, a.top, a.right - a.left, a.bottom - a.top);
          ctx.save();
          ctx.strokeStyle = '#8c8c8c';
          ctx.lineWidth = 1;
          ctx.strokeRect(Math.round(a.left) + 0.5, Math.round(a.top) + 0.5, Math.round(a.right - a.left) - 1, Math.round(a.bottom - a.top) - 1);
          ctx.beginPath();
          ys.ticks.forEach((t: any) => {
            const p = Math.round(ys.getPixelForValue(t.value)) + 0.5;
            ctx.moveTo(a.right, p); ctx.lineTo(a.right - 3, p);
            ctx.moveTo(a.left, p); ctx.lineTo(a.left + 3, p);
          });
          ctx.stroke();
          ctx.restore();
        },
      },
    ],
  };
}

// ---------------- layout ----------------
const INSETS = [
  { id: 9, area: { l: 760, t: 226, r: 882, b: 290 }, make: makeInset([S9_BLUE, S9_RED, S9_YELLOW, S9_GREEN], -3.2, 2.1, [-2, 0, 2]) },
  { id: 6, area: { l: 908, t: 200, r: 1031, b: 263 }, make: makeInset([S6_BLUE, S6_RED, S6_YELLOW, S6_GREEN], -10, 17, [-10, 0, 10]) },
  { id: 4, area: { l: 1058, t: 226, r: 1180, b: 290 }, make: makeInset([S4_BLUE, S4_RED, S4_YELLOW, S4_GREEN], -2.1, 3.4, [-2, 0, 2]) },
  { id: 11, area: { l: 760, t: 367, r: 882, b: 431 }, make: makeInset([S11_BLUE, S11_RED, S11_YELLOW, S11_GREEN], -1.05, 0.95, [-1, -0.5, 0, 0.5]) },
  { id: 2, area: { l: 1058, t: 367, r: 1180, b: 431 }, make: makeInset([S2_BLUE, S2_RED, S2_YELLOW, S2_GREEN], -0.9, 1.12, [-0.5, 0, 0.5, 1]) },
  { id: 12, area: { l: 760, t: 500, r: 882, b: 563 }, make: makeInset([S12_BLUE, S12_RED, S12_YELLOW, S12_GREEN], -0.33, 0.385, [-0.2, 0, 0.2]) },
  { id: 14, area: { l: 908, t: 536, r: 1031, b: 599 }, make: makeInset([S14_BLUE, S14_RED, S14_YELLOW, S14_GREEN], -0.345, 0.24, [-0.2, 0, 0.2]) },
  { id: 1, area: { l: 1058, t: 500, r: 1180, b: 563 }, make: makeInset([S1_BLUE, S1_RED, S1_YELLOW, S1_GREEN], -0.39, 0.34, [-0.2, 0, 0.2]) },
];

const HEATS = [
  { key: 'c', title: 'Station 3 at (200, 300)', area: { l: 67, t: 760, r: 349, b: 1000 }, rows: HM_ST3 },
  { key: 'd', title: 'Station 6 at (40, 450)', area: { l: 433, t: 760, r: 715, b: 1000 }, rows: HM_ST6 },
  { key: 'e', title: 'Station 39 at (-40, 100)', area: { l: 798, t: 760, r: 1080, b: 1000 }, rows: HM_ST39 },
  { key: 'f', title: 'Station 1 at (200, -200)', area: { l: 67, t: 1103, r: 349, b: 1343 }, rows: HM_ST1 },
  { key: 'g', title: 'Station 14 at (-40, -200)', area: { l: 433, t: 1103, r: 715, b: 1343 }, rows: HM_ST14 },
  { key: 'h', title: 'Station 32 at (40, -100)', area: { l: 798, t: 1103, r: 1080, b: 1343 }, rows: HM_ST32 },
];

// ---------------- text helpers ----------------
function Txt({ x, y, rot = 0, size = 16, family = SANS, weight = 400, children, ls = 0 }: any) {
  return (
    <div
      style={{
        position: 'absolute', left: x, top: y,
        transform: `translate(-50%, -50%) rotate(${rot}deg)`,
        whiteSpace: 'pre', fontFamily: family, fontSize: size, fontWeight: weight,
        color: INK, lineHeight: 1, letterSpacing: ls,
      }}
    >
      {children}
    </div>
  );
}
const It = ({ c }: { c: string }) => <span style={{ fontStyle: 'italic' }}>{c}</span>;
const Sub = ({ c }: { c: string }) => (
  <span style={{ fontStyle: 'italic', fontSize: '0.7em', position: 'relative', top: '0.3em' }}>{c}</span>
);
const VrUnit = () => (
  <>
    <It c="V" />
    <Sub c="r" />[<It c="km" />/<It c="s" />]
  </>
);
const TrUnit = () => (
  <>
    <It c="t" />
    <Sub c="R" />[<It c="s" />]
  </>
);

const LEGEND_COLORS = [C_BLUE, C_RED, C_YELLOW, C_GREEN];
const LEGEND_VALUES = ['0.05', 'sqrt', '2', '\u221e'];

export default function App() {
  const aArea = { l: 68, t: 167, r: 570, b: 626 };
  const bArea = { l: 737, t: 167, r: 1190, b: 625 };
  return (
    <div style={{ position: 'absolute', left: 0, top: 0, width: 1219, height: 1393, background: '#fff', overflow: 'hidden', color: INK }}>
      {/* top legend */}
      <div style={{ position: 'absolute', left: 931, top: 5, width: 264, height: 102, border: '1px solid #7d7d7d', boxSizing: 'border-box', background: '#fff' }} />
      {LEGEND_COLORS.map((col, i) => {
        const cy = 21 + i * 24.3;
        const v = LEGEND_VALUES[i];
        return (
          <React.Fragment key={i}>
            <div style={{ position: 'absolute', left: 935, top: cy - 1, width: 26, height: 2, background: col }} />
            <div style={{ position: 'absolute', left: 963, top: cy, transform: 'translateY(-50%)', whiteSpace: 'pre', fontFamily: SERIF, fontSize: 21.5, lineHeight: 1, color: INK }}>
              <VrUnit /> ={' '}
              {v === 'sqrt' ? (
                <>
                  <span>{'\u221a'}</span>
                  <span style={{ borderTop: `1px solid ${INK}`, fontStyle: 'italic', paddingTop: 1 }}>gh</span>
                </>
              ) : (
                v
              )}{' '}
              ; <TrUnit /> = 0
            </div>
          </React.Fragment>
        );
      })}

      {/* panel letters */}
      <Txt x={29} y={143} size={24} family={SERIF} weight={700}>(a)</Txt>
      <Txt x={675} y={143} size={24} family={SERIF} weight={700}>(b)</Txt>
      <Txt x={27} y={728} size={24} family={SERIF} weight={700}>(c)</Txt>
      <Txt x={393} y={728} size={24} family={SERIF} weight={700}>(d)</Txt>
      <Txt x={758} y={728} size={24} family={SERIF} weight={700}>(e)</Txt>
      <Txt x={27} y={1068} size={24} family={SERIF} weight={700}>(f)</Txt>
      <Txt x={393} y={1068} size={24} family={SERIF} weight={700}>(g)</Txt>
      <Txt x={758} y={1068} size={24} family={SERIF} weight={700}>(h)</Txt>

      {/* (a) */}
      <ChartBox area={aArea} m={{ l: 60, t: 24, r: 32, b: 50 }} make={makePanelA} />
      <Txt x={319} y={684}>X [km]</Txt>
      <Txt x={16} y={396} rot={-90}>Y [km]</Txt>

      {/* amplitude colour bar */}
      <ChartBox area={{ l: 630, t: 167, r: 656, b: 625 }} m={{ l: 34, t: 20, r: 6, b: 20 }} make={makeAmpBar} />
      <Txt x={598} y={396} rot={-90}>Amplitude [m]</Txt>

      {/* (b) */}
      <ChartBox area={bArea} m={{ l: 60, t: 24, r: 28, b: 55 }} make={makePanelB} />
      <Txt x={966} y={689}>X [km]</Txt>
      <Txt x={676} y={396} rot={-90}>Y [km]</Txt>
      {INSETS.map((ins) => (
        <React.Fragment key={ins.id}>
          <ChartBox area={ins.area} m={{ l: 34, t: 14, r: 8, b: 20 }} make={ins.make} />
          <Txt x={(ins.area.l + ins.area.r) / 2} y={ins.area.t - 11} size={18} family={SERIF} ls={0.3}>
            {`Station  ${ins.id}`}
          </Txt>
        </React.Fragment>
      ))}

      {/* heat maps */}
      {HEATS.map((hm) => {
        const cx = (hm.area.l + hm.area.r) / 2;
        return (
          <React.Fragment key={hm.key}>
            <ChartBox area={hm.area} m={{ l: 52, t: 20, r: 20, b: 30 }} make={makeHeat(hm.rows)} />
            <Txt x={cx} y={hm.area.t - 15} size={21} family={SERIF} ls={0.3}>{hm.title}</Txt>
            <Txt x={cx} y={hm.area.b + 35} size={19} family={SERIF}><VrUnit /></Txt>
            <Txt x={hm.area.l - 43} y={(hm.area.t + hm.area.b) / 2} rot={-90} size={19} family={SERIF}><TrUnit /></Txt>
          </React.Fragment>
        );
      })}

      {/* eta colour bars */}
      <ChartBox area={{ l: 1113, t: 747, r: 1134, b: 997 }} m={{ l: 6, t: 20, r: 44, b: 20 }} make={makeEtaBar} />
      <ChartBox area={{ l: 1113, t: 1091, r: 1134, b: 1342 }} m={{ l: 6, t: 20, r: 44, b: 20 }} make={makeEtaBar} />
      {[873, 1216].map((y) => (
        <Txt key={y} x={1179} y={y} rot={-90} size={21} family={SERIF}>
          <It c={'\u03b7'} />
          <Sub c="max" />/<It c="H" />
        </Txt>
      ))}
    </div>
  );
}
